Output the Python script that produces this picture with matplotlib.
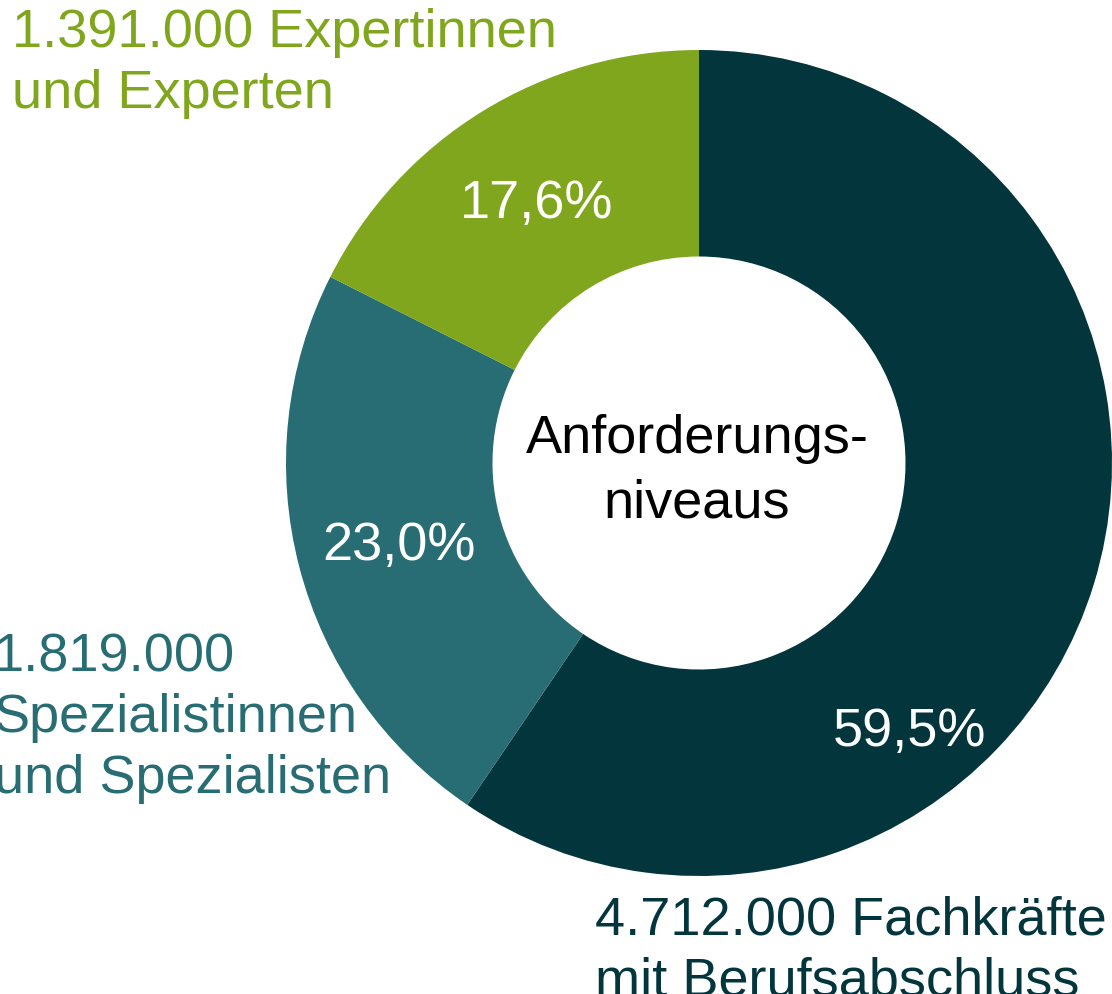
import numpy as np
import matplotlib
matplotlib.use('Agg')
import matplotlib.pyplot as plt

plt.rcParams['font.family'] = ['Liberation Sans', 'DejaVu Sans']

# Beschäftigte nach Anforderungsniveau
levels = ['Fachkräfte mit Berufsabschluss', 'Spezialistinnen und Spezialisten', 'Expertinnen und Experten']
counts = [4712000, 1819000, 1391000]
labels = ['4.712.000 Fachkräfte\nmit Berufsabschluss',
          '1.819.000\nSpezialistinnen\nund Spezialisten',
          '1.391.000 Expertinnen\nund Experten']
colors = ['#02353c', '#276d73', '#7fa61c']
center_label = 'Anforderungs-\nniveaus'

W, H = 1112, 994
fig = plt.figure(figsize=(W / 100, H / 100), dpi=100)
cx, cy, r = 699, 463, 413
ax = fig.add_axes([(cx - r) / W, (H - cy - r) / H, 2 * r / W, 2 * r / H])

wedges, texts, pcts = ax.pie(
    counts, colors=colors, startangle=90, counterclock=False, radius=1,
    autopct=lambda p: f'{p:.1f}%'.replace('.', ','), pctdistance=0.75,
    wedgeprops=dict(width=0.5, linewidth=0),
    textprops=dict(color='white', fontsize=39))
# the big slice has its percentage further down
pcts[0].set_position((0.51, -0.64))
for t in pcts:
    x, y = t.get_position()
    t.set_position((x, y - 0.012))
ax.set_xlim(-1, 1)
ax.set_ylim(-1, 1)
ax.set_aspect('equal')
ax.axis('off')

ax.text(-0.005, -0.131, center_label, ha='center', va='baseline', fontsize=39,
        color='black', linespacing=1.37, multialignment='center')

# outer labels (pixel positions of the last baseline)
label_pos = [(595, 995), (-6, 793), (12, 108)]
for lab, col, (px, py) in zip(labels, colors, label_pos):
    fig.text(px / W, 1 - py / H, lab, ha='left', va='baseline',
             fontsize=39, color=col, linespacing=1.27)

fig.savefig('out.png', dpi=100)
